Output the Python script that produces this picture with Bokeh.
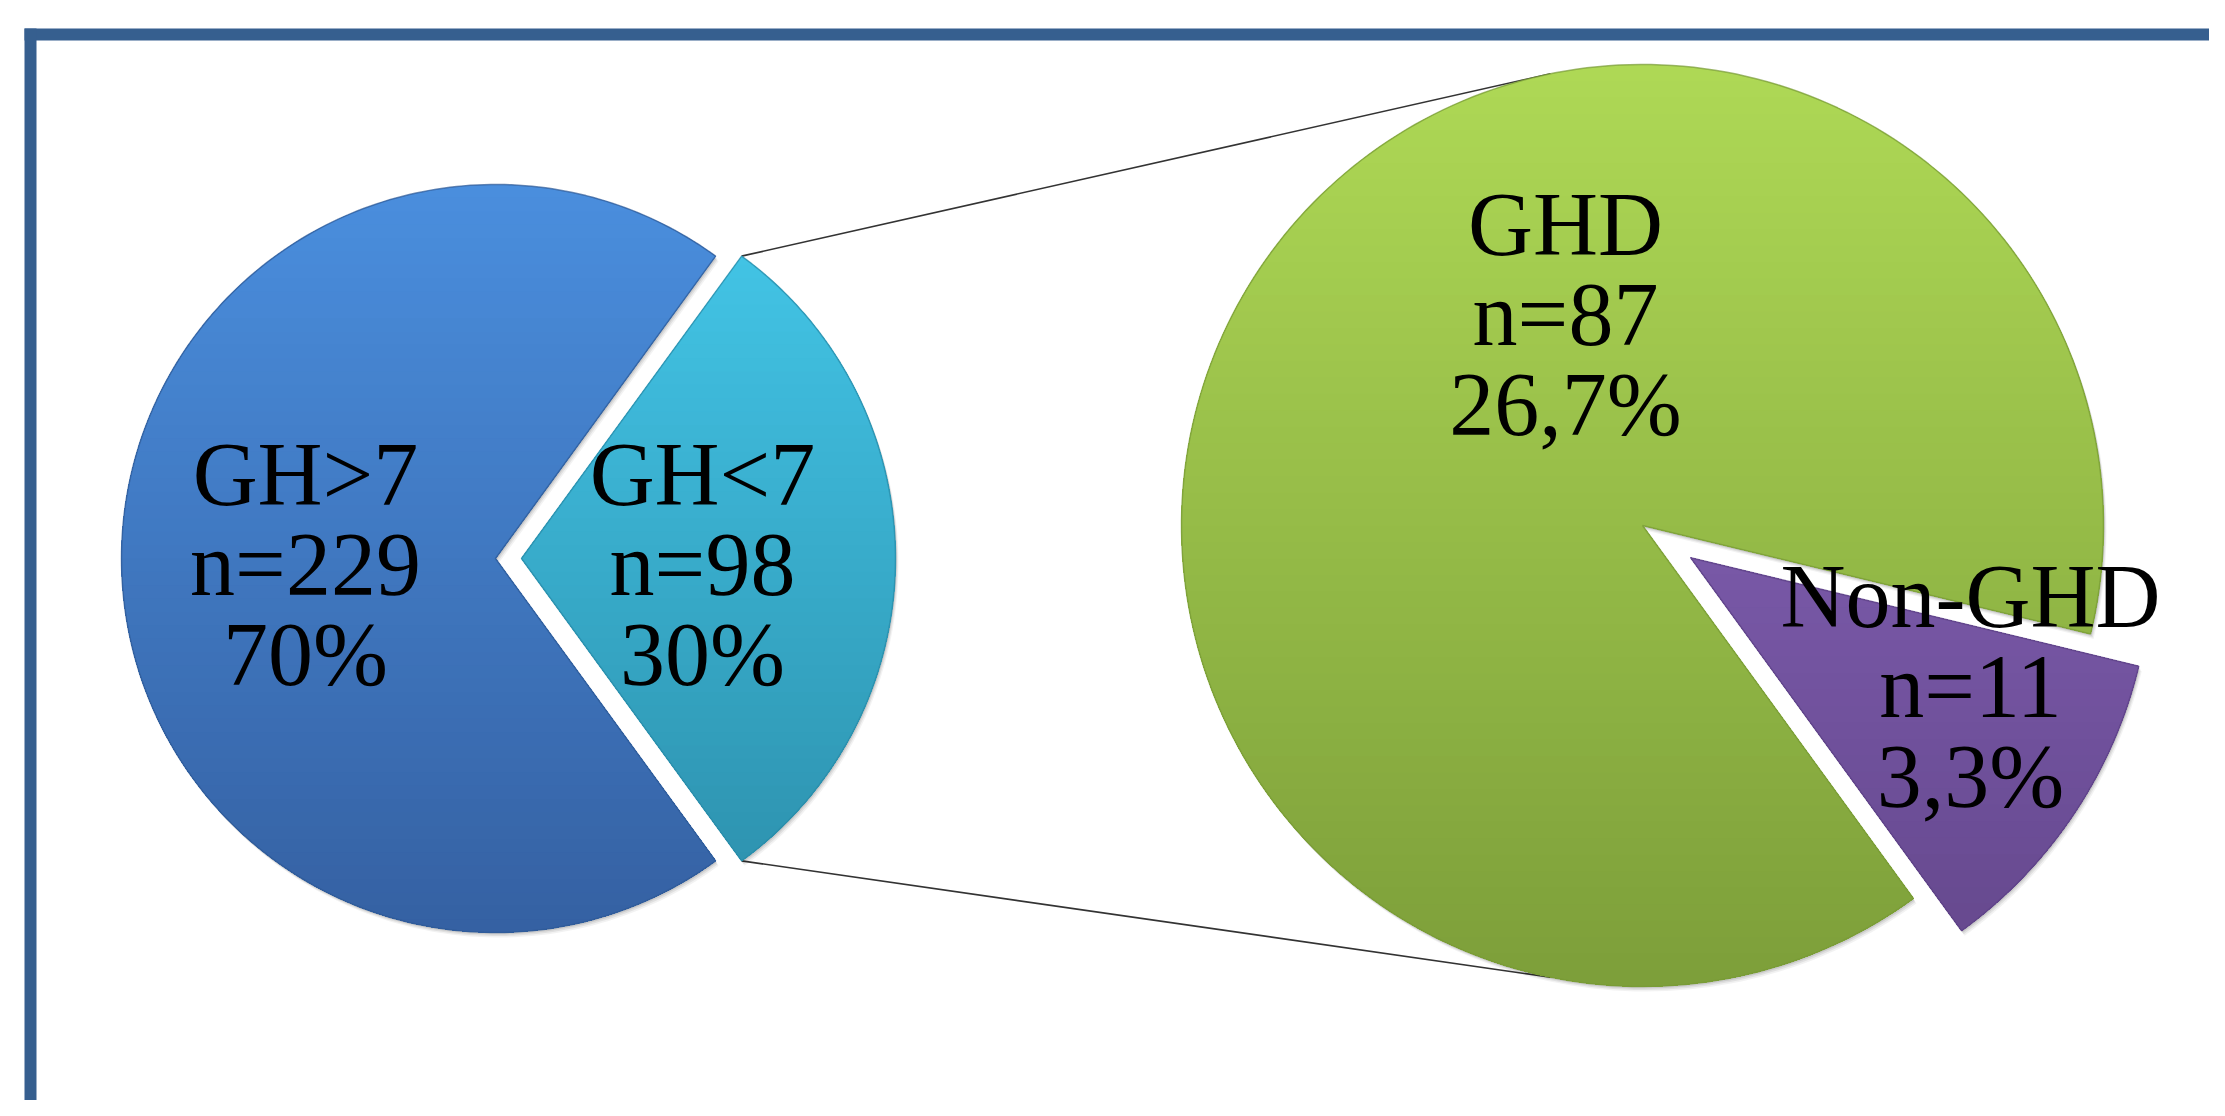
import math
from bokeh.plotting import figure
from bokeh.models import Range1d
from bokeh.core.properties import value
from bokeh.embed import file_html
from bokeh.resources import INLINE

# ---------------- data ----------------
primary_labels = ["GH>7", "GH<7"]
primary_n = [229, 98]
primary_pct = ["70%", "30%"]

secondary_labels = ["GHD", "Non-GHD"]
secondary_n = [87, 11]
secondary_pct = ["26,7%", "3,3%"]

# ---------------- layout / style ----------------
W, H = 2209, 1100
OX, OY = 0, 0
FONT = "Liberation Serif"
FSIZE = "90px"
LINE_GAP = 90

P_C = (495.0, 558.0)    # primary pie centre (page px)
P_R = 374.0
P_EXPLODE = 26.0
S_C = (1642.0, 525.0)   # secondary pie centre
S_R = 461.0
S_EXPLODE = 58.0
S_START = -13.6         # degrees, where the small secondary slice starts (clockwise)
LINK_ANGLE = 101.5

grad = {
    "blue": ("#4a8edd", "#3561a3"),
    "cyan": ("#44c8ea", "#2c8fab"),
    "green": ("#aed855", "#7d9f3a"),
    "purple": ("#8d6ac4", "#63468a"),
}
rim = {"blue": "#2f5a95", "cyan": "#2a8aa6", "green": "#789a36", "purple": "#5d4285"}

p = figure(width=W, height=H, output_backend="svg", toolbar_location=None,
           x_range=Range1d(OX, OX + W), y_range=Range1d(OY + H, OY),
           min_border=0, outline_line_color=None, background_fill_color="white",
           border_fill_color="white")
p.axis.visible = False
p.grid.visible = False


def hex2rgb(h):
    h = h.lstrip("#")
    return tuple(int(h[i:i + 2], 16) for i in (0, 2, 4))


def mix(c1, c2, t):
    a, b = hex2rgb(c1), hex2rgb(c2)
    return "#%02x%02x%02x" % tuple(int(round(a[i] + (b[i] - a[i]) * t)) for i in range(3))


def wedge_pts(cx, cy, r, a0, a1, n=240):
    # a0 -> a1 in degrees, counter-clockwise in math sense; page y points down
    pts = [(cx, cy)]
    for i in range(n + 1):
        a = math.radians(a0 + (a1 - a0) * i / n)
        pts.append((cx + r * math.cos(a), cy - r * math.sin(a)))
    return pts


def clip_below(pts, yt):
    out = []
    n = len(pts)
    for i in range(n):
        a, b = pts[i], pts[(i + 1) % n]
        ain, bin_ = a[1] >= yt, b[1] >= yt
        if ain:
            out.append(a)
        if ain != bin_:
            t = (yt - a[1]) / (b[1] - a[1])
            out.append((a[0] + t * (b[0] - a[0]), yt))
    return out


def draw_shadow(cx, cy, r, a0, a1):
    pts = wedge_pts(cx, cy, r, a0, a1)
    for d, al in ((5, 0.05), (3.5, 0.07), (2, 0.09)):
        p.patch([q[0] + d * 0.6 for q in pts], [q[1] + d for q in pts],
                fill_color="#000000", fill_alpha=al, line_color=None)


def draw_wedge(cx, cy, r, a0, a1, key, strips=56):
    pts = wedge_pts(cx, cy, r, a0, a1)
    top, bot = cy - r, cy + r
    c_top, c_bot = grad[key]
    xs, ys, cols = [], [], []
    for k in range(strips):
        yt = top + (bot - top) * k / strips
        cp = clip_below(pts, yt) if k > 0 else pts
        if len(cp) < 3:
            continue
        xs.append([q[0] for q in cp])
        ys.append([q[1] for q in cp])
        cols.append(mix(c_top, c_bot, k / (strips - 1)))
    p.patches(xs, ys, fill_color=cols, line_color=None)
    p.patch([q[0] for q in pts], [q[1] for q in pts], fill_color=None,
            line_color=rim[key], line_width=1.5, line_alpha=0.7)


# ---------------- primary pie ----------------
p_total = sum(primary_n)
small_sweep = 360.0 * primary_n[1] / p_total
half = small_sweep / 2.0
cyan_c = (P_C[0] + P_EXPLODE, P_C[1])

# ---------------- secondary pie ----------------
s_total = sum(secondary_n)
ng_sweep = 360.0 * secondary_n[1] / s_total
ng_a0, ng_a1 = S_START - ng_sweep, S_START
mid = math.radians((ng_a0 + ng_a1) / 2)
purple_c = (S_C[0] + S_EXPLODE * math.cos(mid), S_C[1] - S_EXPLODE * math.sin(mid))

# connector lines (under the pies)
hr = math.radians(half)
la = math.radians(LINK_ANGLE)
x0s = [cyan_c[0] + P_R * math.cos(hr), cyan_c[0] + P_R * math.cos(hr)]
y0s = [cyan_c[1] - P_R * math.sin(hr), cyan_c[1] + P_R * math.sin(hr)]
x1s = [S_C[0] + S_R * math.cos(la), S_C[0] + S_R * math.cos(la)]
y1s = [S_C[1] - S_R * math.sin(la), S_C[1] + S_R * math.sin(la)]
p.segment(x0=x0s, y0=y0s, x1=x1s, y1=y1s, line_color="#333333", line_width=1.6)

wedges = [
    (P_C[0], P_C[1], P_R, half, 360 - half, "blue"),
    (cyan_c[0], cyan_c[1], P_R, -half, half, "cyan"),
    (S_C[0], S_C[1], S_R, S_START, S_START + 360 - ng_sweep, "green"),
    (purple_c[0], purple_c[1], S_R, ng_a0, ng_a1, "purple"),
]
for w in wedges:
    draw_shadow(*w[:5])
for w in wedges:
    draw_wedge(*w)

# ---------------- frame (top & left bars) ----------------
p.quad(left=[24, 24], right=[OX + W + 20, 36], top=[28, 28], bottom=[40, OY + H + 20],
       fill_color="#365f8f", line_color=None)

# ---------------- labels ----------------
label_x = [305, 702, 1565, 1970]
label_y0 = [474, 474, 224, 596]
names = primary_labels + secondary_labels
ns = primary_n + secondary_n
pcts = primary_pct + secondary_pct
tx, ty, tt = [], [], []
for i in range(4):
    lines = [names[i], "n=%d" % ns[i], pcts[i]]
    for j, s in enumerate(lines):
        tx.append(label_x[i])
        ty.append(label_y0[i] + j * LINE_GAP)
        tt.append(s)
p.text(x=tx, y=ty, text=tt, text_font=value(FONT), text_font_size=FSIZE,
       text_align="center", text_baseline="alphabetic", text_color="#000000")

open("out.html", "w").write(file_html(p, INLINE))
